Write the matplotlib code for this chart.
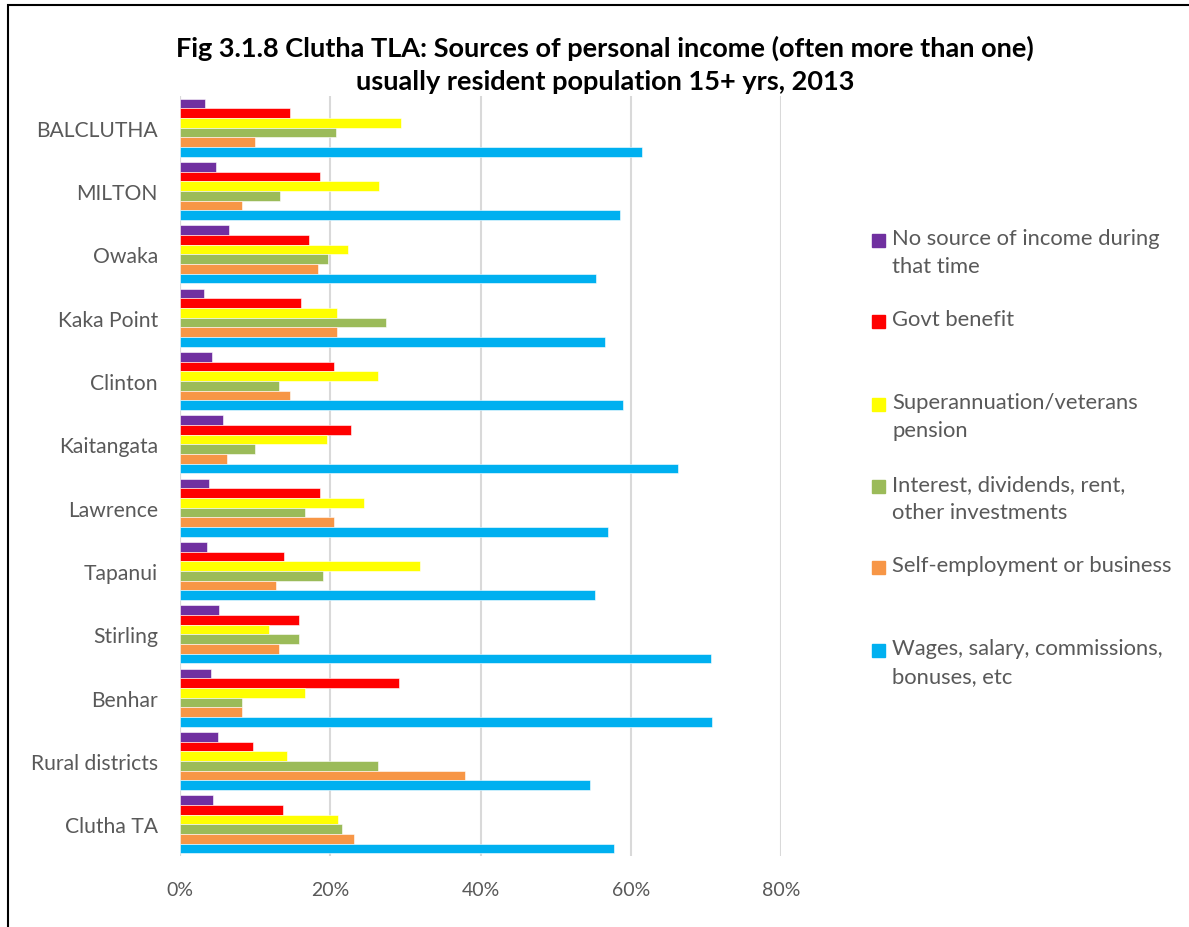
import numpy as np
import matplotlib.pyplot as plt
from matplotlib.patches import Rectangle
from matplotlib.ticker import PercentFormatter

plt.rcParams['font.family'] = ['Lato', 'DejaVu Sans']

areas = ["BALCLUTHA", "MILTON", "Owaka", "Kaka Point", "Clinton", "Kaitangata",
         "Lawrence", "Tapanui", "Stirling", "Benhar", "Rural districts", "Clutha TA"]

series_names = ["No source of income during\nthat time",
                "Govt benefit",
                "Superannuation/veterans\npension",
                "Interest, dividends, rent,\nother investments",
                "Self-employment or business",
                "Wages, salary, commissions,\nbonuses, etc"]

no_source = [3.3, 4.8, 6.5, 3.2, 4.3, 5.7, 3.8, 3.6, 5.2, 4.1, 5.0, 4.4]
govt_benefit = [14.6, 18.6, 17.1, 16.1, 20.5, 22.7, 18.6, 13.9, 15.9, 29.1, 9.7, 13.7]
superannuation = [29.4, 26.5, 22.4, 20.9, 26.4, 19.5, 24.5, 31.9, 11.9, 16.6, 14.2, 21.0]
interest = [20.8, 13.3, 19.7, 27.4, 13.2, 10.0, 16.6, 19.0, 15.9, 8.2, 26.4, 21.6]
self_employed = [10.0, 8.3, 18.4, 20.9, 14.7, 6.3, 20.5, 12.8, 13.2, 8.2, 37.9, 23.1]
wages = [61.5, 58.5, 55.4, 56.6, 58.9, 66.3, 56.9, 55.2, 70.7, 70.8, 54.5, 57.8]

colors = ["#7030A0", "#FF0000", "#FFFF00", "#9BBB59", "#F79646", "#00B0F0"]

all_series = [no_source, govt_benefit, superannuation, interest, self_employed, wages]

fig = plt.figure(figsize=(11.89, 9.28), dpi=100)
ax = fig.add_axes([0.1514, 0.0765, 0.5056, 0.819])

y = np.arange(len(areas))
h = 0.152
for k, (vals, col) in enumerate(zip(all_series, colors)):
    offset = (k - 2.5) * h
    ax.barh(y + offset, vals, height=h, color=col, edgecolor="white", linewidth=0.4, zorder=3)

ax.set_ylim(len(areas) - 0.5, -0.5)
ax.set_xlim(0, 80)
ax.set_xticks([0, 20, 40, 60, 80])
ax.xaxis.set_major_formatter(PercentFormatter(decimals=0))
ax.set_yticks(y)
ax.set_yticklabels(areas)
ax.tick_params(axis='both', length=0, labelsize=14, colors="#595959")
ax.tick_params(axis='y', labelsize=15.2, pad=16)
ax.tick_params(axis='x', pad=18)
ax.grid(axis='x', color="#D9D9D9", linewidth=1.5, zorder=0)
for s in ax.spines.values():
    s.set_visible(False)
ax.axvline(0, color="#D9D9D9", linewidth=1.5, zorder=1)

fig.text(0.509, 0.930, "Fig 3.1.8 Clutha TLA: Sources of personal income (often more than one)\n"
         "usually resident population 15+ yrs, 2013",
         ha="center", va="center", fontsize=19.5, fontweight="bold", color="black",
         linespacing=1.42)

# legend, first line of each entry lined up with its square
leg_y = [241, 322, 405, 487, 568, 651]
for name, col, yy in zip(series_names, colors, leg_y):
    fy = 1 - yy / 928
    fig.add_artist(Rectangle((872 / 1189, fy - 6.5 / 928), 13 / 1189, 13 / 928,
                             transform=fig.transFigure, color=col))
    fig.text(892 / 1189, fy + 12 / 928, name, ha="left", va="top", fontsize=15.8,
             color="#595959", linespacing=1.5)

# chart border
fig.add_artist(Rectangle((8 / 1189, -0.1), 1.2, 1 - 6 / 928 + 0.1, transform=fig.transFigure,
                         fill=False, edgecolor="black", linewidth=1.5))

fig.savefig("out.png", dpi=100)
